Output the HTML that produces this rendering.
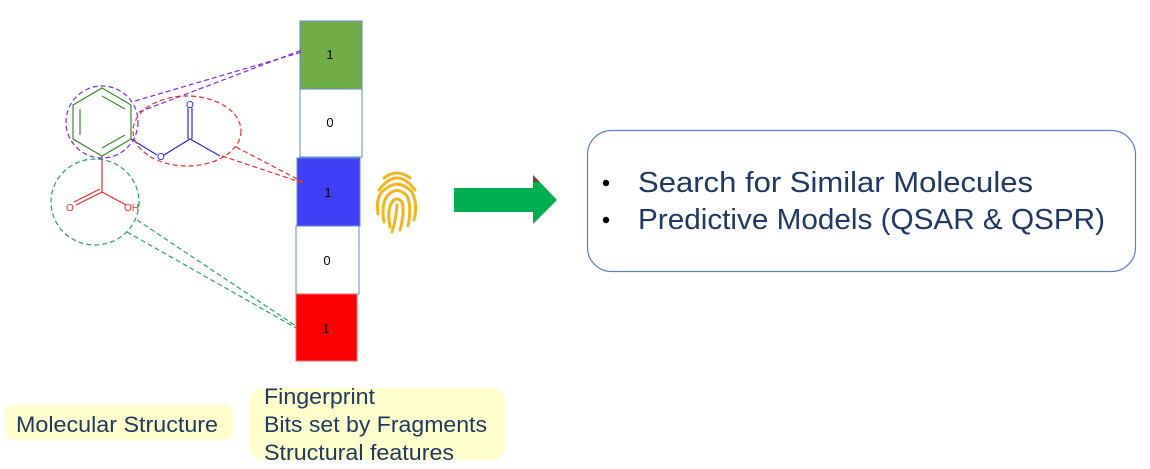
<!DOCTYPE html>
<html><head><meta charset="utf-8"><style>
html,body{margin:0;padding:0;background:#fff;}
svg{display:block;font-family:"Liberation Sans",sans-serif;}
</style></head><body>
<svg width="1150" height="469" viewBox="0 0 1150 469" xmlns="http://www.w3.org/2000/svg">
<rect x="300" y="21" width="62" height="68" fill="#70ad47" stroke="#5b8fc7" stroke-width="1"/>
<rect x="300" y="89" width="62" height="68" fill="#fff" stroke="#5b8fc7" stroke-width="1"/>
<rect x="297" y="158" width="63" height="68" fill="#3f3ff5" stroke="#5b8fc7" stroke-width="1"/>
<rect x="296" y="226" width="63" height="68" fill="#fff" stroke="#5b8fc7" stroke-width="1"/>
<rect x="296" y="294" width="61" height="67" fill="#ff0000" stroke="#e07070" stroke-width="1"/>
<g font-size="13" fill="#000" text-anchor="middle">
<text x="330" y="59">1</text><text x="330" y="127">0</text><text x="328" y="197">1</text><text x="327" y="265">0</text><text x="326" y="333">1</text>
</g>
<g fill="none" stroke-width="1.2">
<polygon points="102,88 131,105 131,139 102,156 73,139 73,105" stroke="#3a8a2a"/>
<line x1="102" y1="96" x2="125" y2="109" stroke="#3a8a2a"/>
<line x1="80" y1="109" x2="80" y2="135" stroke="#3a8a2a"/>
<line x1="102" y1="148" x2="125" y2="135" stroke="#3a8a2a"/>
<polyline points="131,139 157,155" stroke="#2a2ad0"/>
<polyline points="164,155 190,139 220,156" stroke="#2a2ad0"/>
<line x1="188" y1="139" x2="188" y2="108" stroke="#2a2ad0"/>
<line x1="192" y1="139" x2="192" y2="108" stroke="#2a2ad0"/>
<line x1="102" y1="156" x2="102" y2="192" stroke="#e03030"/>
<line x1="102" y1="192" x2="76" y2="205" stroke="#e03030"/>
<line x1="100" y1="189" x2="74" y2="202" stroke="#e03030"/>
<line x1="102" y1="192" x2="126" y2="205" stroke="#e03030"/>
</g>
<g font-size="10">
<text x="157" y="160" fill="#2a2ad0">O</text>
<text x="186" y="108" fill="#2a2ad0">O</text>
<text x="66" y="211" fill="#e03030">O</text>
<text x="124" y="211" fill="#e03030">OH</text>
</g>
<g fill="none" stroke-dasharray="5,3" stroke-width="1.2">
<ellipse cx="102" cy="122" rx="36" ry="36" stroke="#7a2ae0"/>
<line x1="135" y1="101" x2="302" y2="52" stroke="#7a2ae0"/>
<line x1="139" y1="112" x2="302" y2="50" stroke="#7a2ae0"/>
<ellipse cx="187" cy="131" rx="54" ry="35" stroke="#e03030"/>
<line x1="236" y1="147" x2="303" y2="182" stroke="#e03030"/>
<line x1="222" y1="156" x2="303" y2="183" stroke="#e03030"/>
<ellipse cx="95" cy="202" rx="44" ry="43" stroke="#2aa060"/>
<line x1="137" y1="220" x2="296" y2="326" stroke="#2aa060"/>
<line x1="127" y1="232" x2="296" y2="328" stroke="#2aa060"/>
</g>
<g fill="none" stroke="#f2b51c" stroke-width="3" stroke-linecap="round">
<path d="M384,178 Q397,168 410,178"/>
<path d="M379,190 Q397,166 415,190"/>
<path d="M378,214 Q376,200 381,193 Q397,176 412,192 Q418,204 414,220"/>
<path d="M384,222 Q381,205 387,196 Q397,185 407,196 Q412,206 408,226"/>
<path d="M390,227 Q387,210 392,202 Q397,196 402,202 Q405,212 400,230"/>
<path d="M397,205 Q396,220 392,232"/>
</g>
<polygon points="454,188 533,188 533,175 557,200 533,224 533,212 454,212" fill="#00b050"/>
<polygon points="533,175 540,182 533,182" fill="#7a4a30"/>
<rect x="587.5" y="130.5" width="548" height="141" rx="24" fill="#fff" stroke="#5b7fbf" stroke-width="1.2"/>
<circle cx="606" cy="183" r="3.2" fill="#000"/>
<circle cx="606" cy="220" r="3.2" fill="#000"/>
<g font-size="29" fill="#1f3864">
<text x="638" y="192" textLength="395" lengthAdjust="spacingAndGlyphs">Search for Similar Molecules</text>
<text x="638" y="229" textLength="467" lengthAdjust="spacingAndGlyphs">Predictive Models (QSAR &amp; QSPR)</text>
</g>
<rect x="5" y="405" width="228" height="35" rx="8" fill="#ffffcc"/>
<rect x="250" y="388" width="255" height="72" rx="12" fill="#ffffcc"/>
<g font-size="22" fill="#1f3864">
<text x="16" y="432" textLength="202" lengthAdjust="spacingAndGlyphs">Molecular Structure</text>
<text x="264" y="404" textLength="111" lengthAdjust="spacingAndGlyphs">Fingerprint</text>
<text x="264" y="432" textLength="223" lengthAdjust="spacingAndGlyphs">Bits set by Fragments</text>
<text x="264" y="460" textLength="190" lengthAdjust="spacingAndGlyphs">Structural features</text>
</g>
</svg>
</body></html>
